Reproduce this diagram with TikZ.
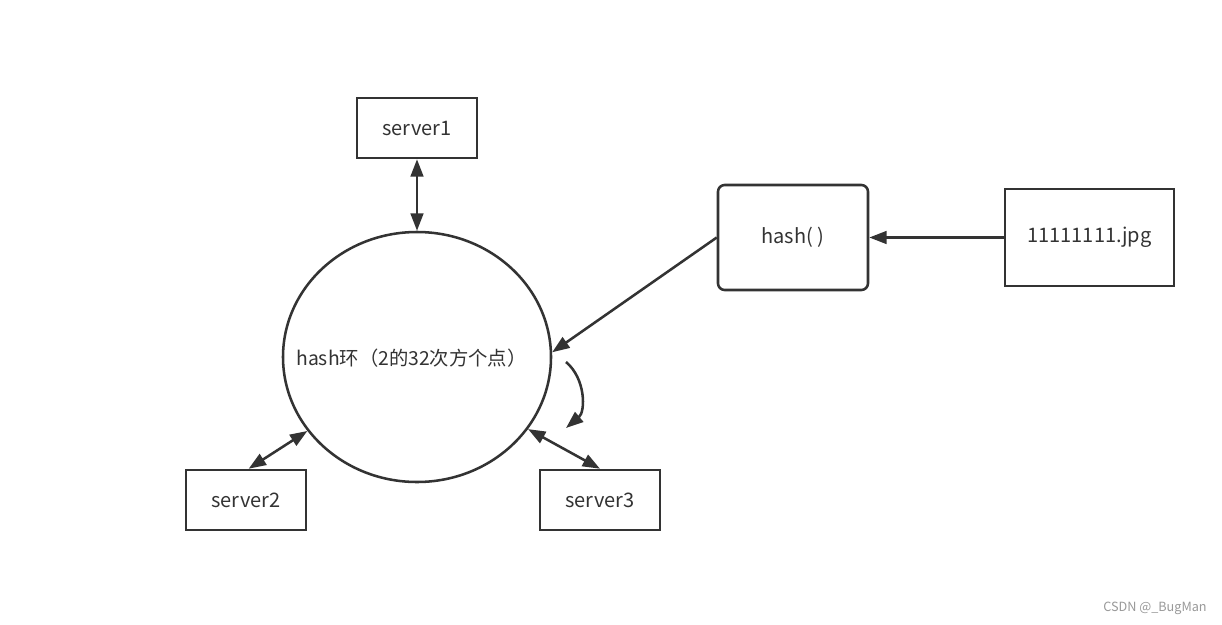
\documentclass[tikz,border=0pt]{standalone}
\usepackage{fontspec}
\setmainfont{Noto Sans CJK SC}
\usetikzlibrary{positioning, arrows.meta, shapes.geometric}
\definecolor{linegray}{HTML}{333333}
\definecolor{markgray}{HTML}{999999}
\tikzset{
  box/.style={draw=linegray, line width=1.9pt, minimum width=90pt, minimum height=45pt, inner sep=0pt, font=\fontsize{15}{17}\selectfont, text=linegray},
  link/.style={draw=linegray, line width=1.9pt, -{Triangle[length=13pt,width=9.5pt]}},
  both/.style={link, {Triangle[length=13pt,width=9.5pt]}-{Triangle[length=13pt,width=9.5pt]}}
}
\begin{document}
\begin{tikzpicture}[x=0.75pt, y=-0.75pt]
\fill[white] (0,0) rectangle (1222,625);
\useasboundingbox (0,0) rectangle (1222,625);
\node [draw=linegray, line width=1.9pt, ellipse, minimum width=201pt, minimum height=187.5pt, inner sep=0pt] (ring) at (417,357) {};
\node [font=\fontsize{14.5}{17}\selectfont, text=linegray] (ringtext) at (411.5,358) {hash环（2的32次方个点）};
\node [box] (s1) at (417,128) {server1};
\node [box] (s2) at (246,500) {server2};
\node [box] (s3) at (600,500) {server3};
\node [box, rounded corners=5pt, minimum width=112.5pt, minimum height=78.75pt] (hash) at (793,237.5) {hash( )};
\node [box, minimum width=126.75pt, minimum height=72.75pt] (jpg) at (1089.5,237.5) {11111111.jpg};
\coordinate (cs) at (566,362);
\coordinate (ce) at (566,428);
\draw [both] (s1) -- (ring.north);
\draw [both] (s2.north) ++(2pt,0) coordinate (s2n) (s2n) -- (ring.214);
\draw [both] (s3.north) -- (ring.327);
\draw [link] (jpg) -- (hash);
\draw [link] (hash.west) -- (ring.2);
\draw [link] (cs) to[bend left=50] (ce);
\node [text=markgray, font=\fontsize{9.5}{11}\selectfont] (mark) at (1155,608) {CSDN @\_BugMan};
\end{tikzpicture}
\end{document}
